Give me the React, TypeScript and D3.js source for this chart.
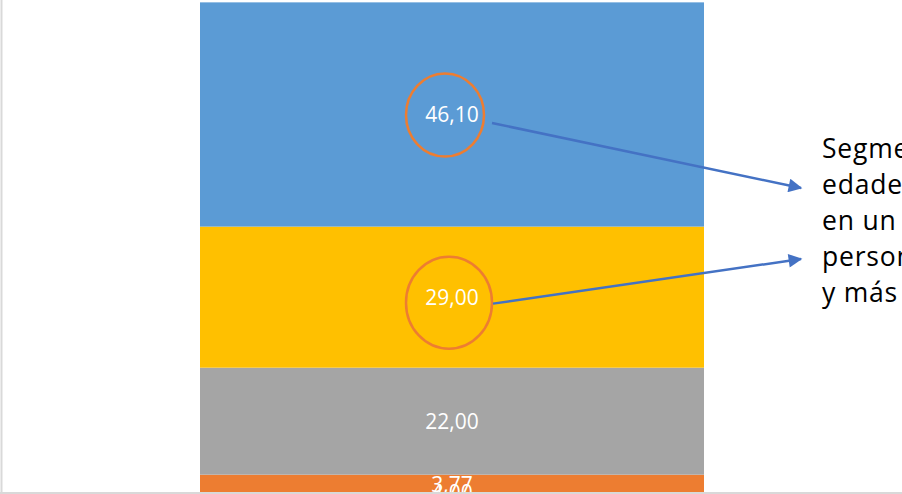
import React from "react";
import * as d3 from "d3";

const categories = ["Total"];
const seriesNames = ["0-14", "15-29", "30-64", "65+"];
const seriesValues = [3.77, 22.0, 29.0, 46.1];
const seriesLabels = ["3,77", "22,00", "29,00", "46,10"];
const seriesColors = ["#ED7D31", "#A5A5A5", "#FFC000", "#5B9BD5"];
const extraLabel = "4,00";
const noteLines = ["Segmento de", "edades de", "en un", "personas de", "y más"];
const highlighted = [3, 2];

export default function App() {
  const W = 902;
  const H = 494;
  const x = d3.scaleBand<string>().domain(categories).range([200, 704]).padding(0);
  const y = d3.scaleLinear().domain([0, 100]).range([493, 6.6]);

  const stacked: { y0: number; y1: number }[] = [];
  let acc = 0;
  seriesValues.forEach((v) => {
    stacked.push({ y0: acc, y1: acc + v });
    acc += v;
  });

  const bx = x(categories[0]) as number;
  const bw = x.bandwidth();
  const cx = bx + bw / 2;

  const circles = highlighted.map((i, k) => {
    const mid = y((stacked[i].y0 + stacked[i].y1) / 2);
    return k === 0
      ? { cx: cx - 7, cy: mid + 0.5, rx: 39, ry: 41.5 }
      : { cx: cx - 3, cy: mid + 5.5, rx: 43, ry: 46 };
  });
  const arrowEnds = [
    { x1: 492, y1: circles[0].cy + 8, x2: 801, y2: 188 },
    { x1: 493, y1: circles[1].cy + 1, x2: 801, y2: 259 },
  ];

  return (
    <svg
      width={W}
      height={H}
      style={{ position: "absolute", left: 0, top: 0, background: "#fff" }}
      fontFamily="'Open Sans', sans-serif"
    >
      <defs>
        <marker
          id="ah"
          viewBox="0 0 10 10"
          refX="9"
          refY="5"
          markerWidth="6.5"
          markerHeight="5.5"
          markerUnits="strokeWidth"
          orient="auto"
        >
          <path d="M0,0 L10,5 L0,10 z" fill="#4472C4" />
        </marker>
      </defs>
      {stacked.map((s, i) => (
        <rect
          key={seriesNames[i]}
          x={bx}
          width={bw}
          y={y(s.y1)}
          height={y(s.y0) - y(s.y1)}
          fill={seriesColors[i]}
        />
      ))}
      <text
        x={cx}
        y={y(0) - 1}
        textAnchor="middle"
        dominantBaseline="central"
        fill="#fff"
        fontSize={21}
      >
        {extraLabel}
      </text>
      {stacked.map((s, i) => (
        <text
          key={"l" + i}
          x={cx}
          y={y((s.y0 + s.y1) / 2)}
          textAnchor="middle"
          dominantBaseline="central"
          fill="#fff"
          fontSize={21}
        >
          {seriesLabels[i]}
        </text>
      ))}
      <line x1={1.5} y1={0} x2={1.5} y2={494} stroke="#D9D9D9" strokeWidth={2} />
      <line x1={0} y1={493} x2={W} y2={493} stroke="#D9D9D9" strokeWidth={2} />
      {circles.map((c, i) => (
        <ellipse
          key={"c" + i}
          cx={c.cx}
          cy={c.cy}
          rx={c.rx}
          ry={c.ry}
          fill="none"
          stroke="#ED7D31"
          strokeWidth={2.5}
        />
      ))}
      {arrowEnds.map((a, i) => (
        <line
          key={"a" + i}
          x1={a.x1}
          y1={a.y1}
          x2={a.x2}
          y2={a.y2}
          stroke="#4472C4"
          strokeWidth={2.5}
          markerEnd="url(#ah)"
        />
      ))}
      {noteLines.map((t, i) => (
        <text
          key={"n" + i}
          x={822}
          y={158 + i * 36}
          fontSize={26.5}
          letterSpacing={0.8}
          fill="#000"
        >
          {t}
        </text>
      ))}
    </svg>
  );
}
